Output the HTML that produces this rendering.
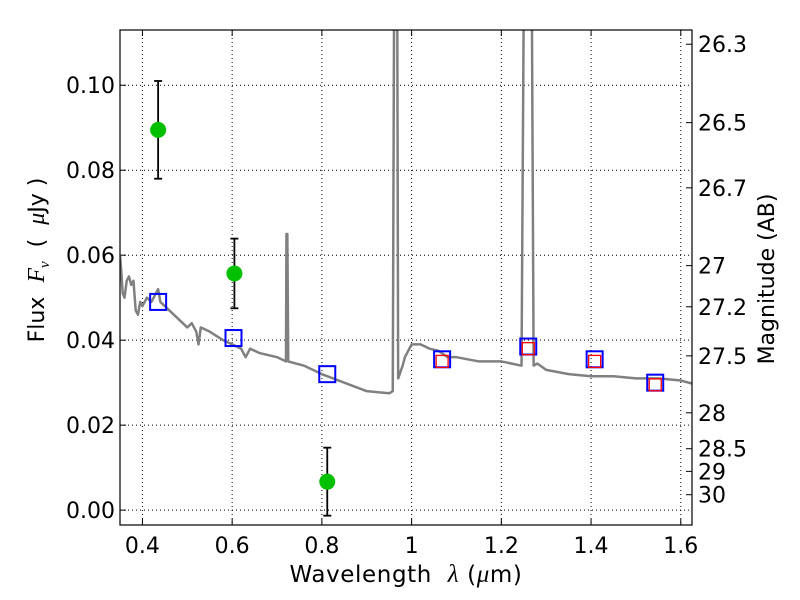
<!DOCTYPE html>
<html><head><meta charset="utf-8"><style>
html,body{margin:0;padding:0;background:#fff;}
svg{display:block;font-family:"DejaVu Sans","Liberation Sans",sans-serif;}
</style></head><body>
<svg id="chart" width="800" height="600" viewBox="0 0 800 600" xmlns="http://www.w3.org/2000/svg"></svg>
<script>
const xTicks=[0.4,0.6,0.8,1.0,1.2,1.4,1.6];
const xTickLabels=["0.4","0.6","0.8","1","1.2","1.4","1.6"];
const yTicks=[0,0.02,0.04,0.06,0.08,0.10];
const yTickLabels=["0.00","0.02","0.04","0.06","0.08","0.10"];
const magTicks=[26.3,26.5,26.7,27,27.2,27.5,28,28.5,29,30];
const magTickLabels=["26.3","26.5","26.7","27","27.2","27.5","28","28.5","29","30"];
const specWave=[0.35,0.353,0.356,0.36,0.365,0.37,0.375,0.38,0.385,0.39,0.395,0.40,0.41,0.42,0.43,0.435,0.44,0.45,0.46,0.47,0.48,0.49,0.50,0.51,0.52,0.525,0.53,0.55,0.58,0.60,0.61,0.62,0.63,0.64,0.66,0.70,0.72,0.721,0.723,0.725,0.76,0.80,0.85,0.90,0.95,0.958,0.961,0.963,0.966,0.968,0.97,0.98,0.985,0.99,1.0,1.02,1.04,1.06,1.08,1.10,1.15,1.20,1.245,1.25,1.252,1.268,1.272,1.28,1.30,1.35,1.40,1.45,1.50,1.55,1.60,1.625];
const specFlux=[0.060,0.056,0.051,0.050,0.054,0.055,0.053,0.054,0.047,0.046,0.049,0.048,0.050,0.049,0.051,0.052,0.049,0.048,0.047,0.046,0.045,0.044,0.043,0.044,0.042,0.039,0.043,0.042,0.040,0.039,0.0385,0.038,0.036,0.038,0.037,0.036,0.035,0.065,0.065,0.035,0.034,0.032,0.030,0.028,0.0275,0.028,0.12,0.12,0.12,0.12,0.031,0.034,0.036,0.037,0.039,0.039,0.038,0.0375,0.036,0.036,0.035,0.035,0.034,0.12,0.12,0.12,0.034,0.0345,0.033,0.032,0.0315,0.0315,0.031,0.031,0.0305,0.0298];
const obsWave=[0.435,0.605,0.812];
const obsFlux=[0.0895,0.0557,0.0067];
const obsErr=[0.0115,0.0082,0.0080];
const modelWave=[0.435,0.603,0.812,1.068,1.26,1.408,1.543];
const modelFlux=[0.049,0.0405,0.032,0.0355,0.0385,0.0355,0.030];
const nirWave=[1.068,1.26,1.408,1.543];
const nirFlux=[0.035,0.038,0.035,0.0295];

const L=120,R=692,T=30,B=525;
const xMin=0.35,xMax=1.625,yMin=-0.0035,yMax=0.113;
const X=v=>L+(v-xMin)/(xMax-xMin)*(R-L);
const Y=v=>B-(v-yMin)/(yMax-yMin)*(B-T);
const svg=document.getElementById('chart');
const NS="http://www.w3.org/2000/svg";
function mk(tag,attrs,parent){const e=document.createElementNS(NS,tag);for(const k in attrs)e.setAttribute(k,attrs[k]);(parent||svg).appendChild(e);return e;}

const clip=mk('clipPath',{id:'pc'});mk('rect',{x:L,y:T,width:R-L,height:B-T},clip);

const grid=mk('g',{});


xTicks.forEach((t,i)=>{
  mk('line',{x1:X(t),x2:X(t),y1:T,y2:B,stroke:'#000','stroke-width':1,'stroke-dasharray':'1,3'},grid);
  mk('line',{x1:X(t),x2:X(t),y1:B,y2:B-6,stroke:'#000'},svg);
  mk('line',{x1:X(t),x2:X(t),y1:T,y2:T+6,stroke:'#000'},svg);
  const tx=mk('text',{x:X(t),y:B+28,'font-size':22,'text-anchor':'middle'});
  
  
  tx.textContent=xTickLabels[i];
});
yTicks.forEach((t,i)=>{
  mk('line',{x1:L,x2:R,y1:Y(t),y2:Y(t),stroke:'#000','stroke-width':1,'stroke-dasharray':'1,3'},grid);
  mk('line',{x1:L,x2:L+6,y1:Y(t),y2:Y(t),stroke:'#000'},svg);
  const tx=mk('text',{x:L-5,y:Y(t)+8,'font-size':22,'text-anchor':'end'});
  
  
  tx.textContent=yTickLabels[i];
});
magTicks.forEach((m,i)=>{
  const f=Math.pow(10,(23.9-m)/2.5);
  const y=Y(f);
  mk('line',{x1:R,x2:R-6,y1:y,y2:y,stroke:'#000'},svg);
  const tx=mk('text',{x:R+6,y:y+8,'font-size':22});
  
  
  tx.textContent=magTickLabels[i];
});

const g=mk('g',{'clip-path':'url(#pc)'});
const sp=mk('polyline',{points:specWave.map((w,i)=>X(w)+','+Y(specFlux[i])).join(' '),fill:'none',stroke:'#808080','stroke-width':2.5,'stroke-linejoin':'round'},g);



modelWave.forEach((w,i)=>{
  const r=mk('rect',{x:X(w)-8,y:Y(modelFlux[i])-8,width:16,height:16,fill:'none',stroke:'#0000ff','stroke-width':2},g);
  
  
});
nirWave.forEach((w,i)=>{
  const r=mk('rect',{x:X(w)-6,y:Y(nirFlux[i])-6,width:12,height:12,fill:'none',stroke:'#ff0000','stroke-width':1.3},g);
  
  
});
obsWave.forEach((w,i)=>{
  const x=X(w),y1=Y(obsFlux[i]+obsErr[i]),y2=Y(obsFlux[i]-obsErr[i]);
  const eb=mk('g',{});
  
  
  mk('line',{x1:x,x2:x,y1:y1,y2:y2,stroke:'#000','stroke-width':1.8},eb);
  mk('line',{x1:x-4,x2:x+4,y1:y1,y2:y1,stroke:'#000','stroke-width':1.8},eb);
  mk('line',{x1:x-4,x2:x+4,y1:y2,y2:y2,stroke:'#000','stroke-width':1.8},eb);
  const c=mk('circle',{cx:x,cy:Y(obsFlux[i]),r:8,fill:'#00c000'});
  
  
});

const fr=mk('rect',{x:L,y:T,width:R-L,height:B-T,fill:'none',stroke:'#000','stroke-width':1.2});



const xl=mk('text',{x:406,y:582,'font-size':23,'text-anchor':'middle','letter-spacing':'0.6'});


xl.innerHTML='Wavelength&#160; <tspan font-family="Liberation Serif" font-style="italic" font-size="25">λ</tspan> (<tspan font-family="Liberation Serif" font-style="italic" font-size="25">μ</tspan>m)';
const yl=mk('text',{x:0,y:0,'font-size':22,'text-anchor':'middle',transform:'translate(44,260) rotate(-90)'});


yl.innerHTML='Flux&#160; <tspan font-family="Liberation Serif" font-style="italic" font-size="24">F</tspan><tspan font-family="Liberation Serif" font-style="italic" font-size="15" dy="5">ν</tspan><tspan dy="-5">&#160; (&#160; </tspan><tspan font-family="Liberation Serif" font-style="italic" font-size="24">μ</tspan>Jy )';
const rl=mk('text',{x:0,y:0,'font-size':22,'text-anchor':'middle',transform:'translate(774,279) rotate(-90)'});


rl.textContent='Magnitude (AB)';
</script>
</body></html>
